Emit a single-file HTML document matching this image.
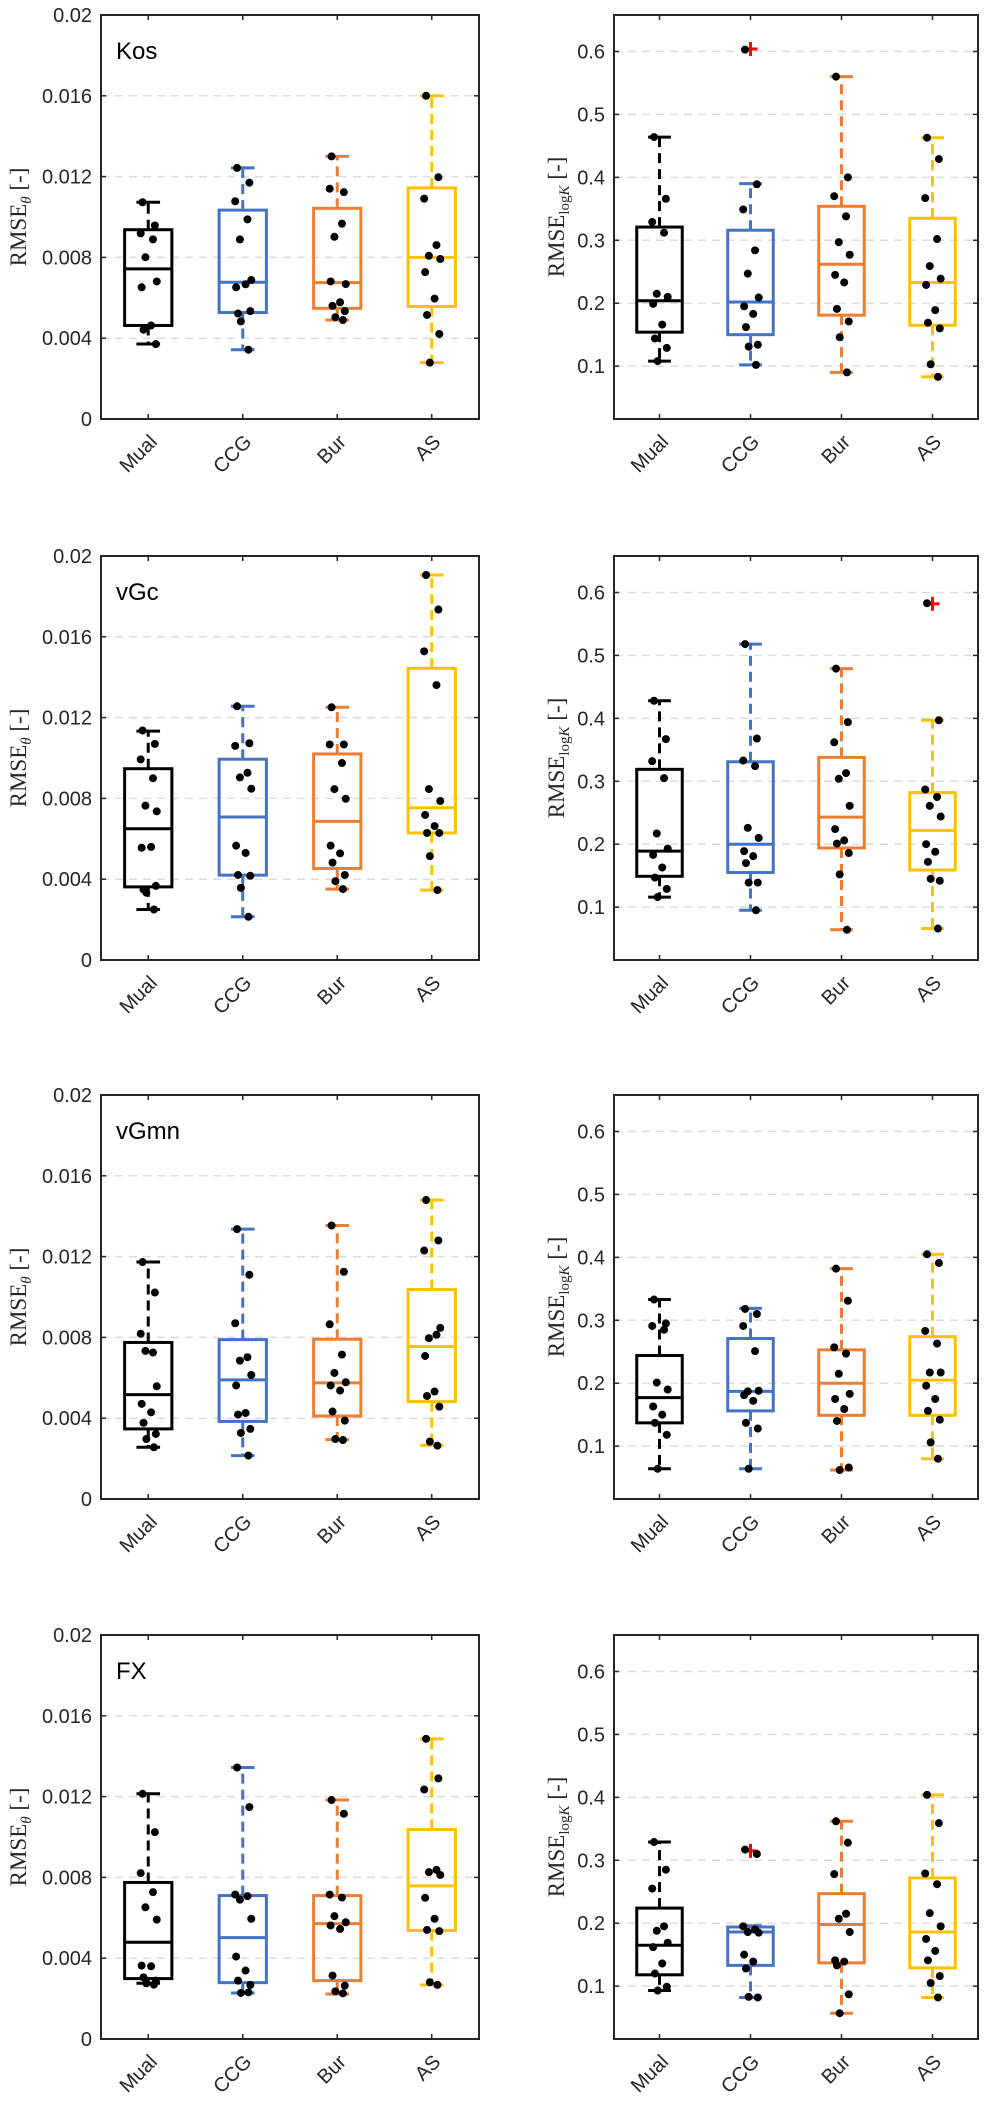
<!DOCTYPE html>
<html><head><meta charset="utf-8">
<style>
html,body{margin:0;padding:0;background:#fff;}
svg{display:block;}
</style></head>
<body>
<svg id="fig" width="989" height="2102" viewBox="0 0 989 2102" xmlns="http://www.w3.org/2000/svg"></svg>
<script>
const categories = ["Mual","CCG","Bur","AS"];
const modelNames = ["Kos","vGc","vGmn","FX"];
const thetaTicks = [0,0.004,0.008,0.012,0.016,0.02];
const thetaTickLabels = ["0","0.004","0.008","0.012","0.016","0.02"];
const logKTicks = [0.1,0.2,0.3,0.4,0.5,0.6];
const logKTickLabels = ["0.1","0.2","0.3","0.4","0.5","0.6"];

// box stats per group: [whiskerLow, q1, median, q3, whiskerHigh]
const kosThetaStats = [[0.00371,0.00463,0.00743,0.00937,0.01073],[0.00343,0.00527,0.00677,0.01034,0.01243],[0.0049,0.00548,0.00675,0.01043,0.0130],[0.00279,0.00557,0.0080,0.01144,0.016]];
const kosThetaPts = [[0.01073,0.00958,0.00919,0.00889,0.00801,0.00681,0.00652,0.00463,0.00442,0.00371],
 [0.01243,0.0117,0.01078,0.00988,0.00889,0.00688,0.00652,0.00667,0.00522,0.00534,0.00483,0.00343],
 [0.0130,0.01123,0.0114,0.00967,0.00902,0.00668,0.00681,0.00578,0.0056,0.00534,0.00504,0.0049],
 [0.016,0.01197,0.01091,0.00861,0.00808,0.00792,0.00727,0.00596,0.00515,0.00421,0.00279]];
const kosThetaOut = [[],[],[],[]];

const kosLogKStats = [[0.108,0.154,0.204,0.321,0.464],[0.102,0.150,0.202,0.316,0.390],[0.090,0.181,0.262,0.354,0.560],[0.083,0.165,0.233,0.335,0.463]];
const kosLogKPts = [[0.464,0.366,0.329,0.312,0.215,0.210,0.199,0.166,0.144,0.129,0.108],
 [0.603,0.389,0.349,0.284,0.247,0.209,0.195,0.183,0.162,0.134,0.131,0.102],
 [0.560,0.400,0.370,0.338,0.297,0.277,0.245,0.233,0.191,0.171,0.146,0.090],
 [0.463,0.429,0.367,0.302,0.259,0.239,0.229,0.189,0.169,0.160,0.103,0.083]];
const kosLogKOut = [[],[0.604],[],[]];

const vgcThetaStats = [[0.0025,0.00362,0.0065,0.00947,0.01133],[0.00214,0.0042,0.00708,0.00994,0.01256],[0.00351,0.00453,0.00686,0.0102,0.01251],[0.00346,0.00629,0.00754,0.01444,0.01906]];
const vgcThetaPts = [[0.01136,0.0107,0.00993,0.009,0.00764,0.00736,0.00556,0.0056,0.00349,0.00367,0.00333,0.0025],
 [0.01256,0.01073,0.0106,0.00927,0.00904,0.00848,0.00566,0.0053,0.00421,0.00417,0.00357,0.00214],
 [0.01251,0.01067,0.01067,0.00975,0.00846,0.00798,0.00566,0.00528,0.00482,0.00421,0.0039,0.00351],
 [0.01906,0.01735,0.01528,0.01361,0.00846,0.00787,0.00718,0.00663,0.00629,0.00629,0.00514,0.00346]];
const vgcThetaOut = [[],[],[],[]];

const vgcLogKStats = [[0.116,0.149,0.189,0.319,0.428],[0.095,0.155,0.200,0.331,0.518],[0.064,0.194,0.243,0.338,0.479],[0.066,0.159,0.222,0.282,0.397]];
const vgcLogKPts = [[0.428,0.367,0.332,0.305,0.217,0.193,0.183,0.163,0.147,0.129,0.116],
 [0.518,0.368,0.333,0.324,0.226,0.210,0.189,0.181,0.170,0.139,0.139,0.095],
 [0.479,0.394,0.362,0.313,0.304,0.261,0.224,0.206,0.201,0.186,0.152,0.064],
 [0.583,0.397,0.287,0.275,0.261,0.244,0.200,0.188,0.172,0.142,0.145,0.066]];
const vgcLogKOut = [[],[],[],[0.582]];

const vgmnThetaStats = [[0.00256,0.00347,0.00517,0.00775,0.01173],[0.00215,0.00384,0.0059,0.00789,0.01336],[0.00294,0.00411,0.00575,0.00791,0.01354],[0.00266,0.00482,0.00755,0.01037,0.0148]];
const vgmnThetaPts = [[0.01173,0.01022,0.00818,0.00725,0.00733,0.00558,0.00471,0.00429,0.00377,0.00322,0.00297,0.00256],
 [0.01336,0.0111,0.0087,0.00702,0.00685,0.00614,0.00562,0.00426,0.00418,0.00347,0.00327,0.00215],
 [0.01354,0.01125,0.00865,0.00715,0.00624,0.00578,0.00562,0.00537,0.00433,0.00388,0.00297,0.00292],
 [0.0148,0.0128,0.0123,0.00813,0.00796,0.00847,0.00708,0.00532,0.0051,0.00457,0.00284,0.00264]];
const vgmnThetaOut = [[],[],[],[]];

const vgmnLogKStats = [[0.064,0.137,0.177,0.244,0.333],[0.064,0.156,0.187,0.271,0.319],[0.062,0.149,0.200,0.253,0.382],[0.080,0.149,0.205,0.274,0.405]];
const vgmnLogKPts = [[0.333,0.295,0.291,0.285,0.201,0.190,0.163,0.150,0.137,0.118,0.064],
 [0.318,0.310,0.291,0.251,0.187,0.188,0.181,0.172,0.137,0.128,0.064],
 [0.382,0.331,0.257,0.247,0.215,0.183,0.175,0.159,0.140,0.066,0.062],
 [0.405,0.391,0.283,0.263,0.217,0.217,0.196,0.175,0.156,0.142,0.106,0.080]];
const vgmnLogKOut = [[],[],[],[]];

const fxThetaStats = [[0.00276,0.00299,0.00479,0.00775,0.01214],[0.00228,0.00279,0.00502,0.0071,0.01344],[0.00223,0.00289,0.00571,0.0071,0.01183],[0.00268,0.00537,0.00758,0.01037,0.01486]];
const fxThetaPts = [[0.01214,0.01024,0.00821,0.00727,0.00652,0.00591,0.00363,0.0036,0.00305,0.00289,0.00276,0.00269],
 [0.01344,0.01148,0.00715,0.00707,0.0069,0.00595,0.00408,0.00339,0.00289,0.00268,0.00228,0.00231],
 [0.01183,0.01115,0.00715,0.007,0.00608,0.00578,0.00562,0.00545,0.00314,0.00264,0.00236,0.00226],
 [0.01486,0.0129,0.01235,0.00837,0.00826,0.00812,0.00699,0.00595,0.0054,0.00534,0.00281,0.00268]];
const fxThetaOut = [[],[],[],[]];

const fxLogKStats = [[0.093,0.118,0.165,0.224,0.329],[0.082,0.133,0.186,0.194,0.196],[0.057,0.137,0.198,0.247,0.362],[0.082,0.129,0.186,0.272,0.404]];
const fxLogKPts = [[0.329,0.285,0.255,0.195,0.188,0.169,0.162,0.136,0.120,0.099,0.093],
 [0.317,0.310,0.195,0.190,0.186,0.185,0.150,0.139,0.128,0.082,0.083],
 [0.362,0.328,0.278,0.215,0.207,0.186,0.141,0.139,0.133,0.087,0.057],
 [0.404,0.359,0.279,0.262,0.216,0.195,0.175,0.156,0.141,0.116,0.105,0.082]];
const fxLogKOut = [[],[0.315],[],[]];

const thetaStats = [kosThetaStats, vgcThetaStats, vgmnThetaStats, fxThetaStats];
const thetaPts = [kosThetaPts, vgcThetaPts, vgmnThetaPts, fxThetaPts];
const thetaOut = [kosThetaOut, vgcThetaOut, vgmnThetaOut, fxThetaOut];
const logKStats = [kosLogKStats, vgcLogKStats, vgmnLogKStats, fxLogKStats];
const logKPts = [kosLogKPts, vgcLogKPts, vgmnLogKPts, fxLogKPts];
const logKOut = [kosLogKOut, vgcLogKOut, vgmnLogKOut, fxLogKOut];

const colors = ["#000000","#4472C4","#ED7D31","#FFC000"];
const jitter = [-0.06,0.07,-0.08,0.05,-0.03,0.09,-0.07,0.03,-0.05,0.08,-0.02,0.06];
const NS = "http://www.w3.org/2000/svg";
const svg = document.getElementById('fig');
function mk(tag, attrs, parent){ const e=document.createElementNS(NS,tag); for(const k in attrs) e.setAttribute(k,attrs[k]); (parent||svg).appendChild(e); return e; }

const rowTops = [15,556,1095,1635];
const H = 404;

function drawPanel(r, side){
  const isTheta = side===0;
  const L = isTheta?101:614, R = isTheta?479:978;
  const T = rowTops[r], B = T+H;
  const ymin = isTheta?0:0.016, ymax = isTheta?0.02:0.658;
  const xs = i => L + (i+0.5)*(R-L)/4;
  const ys = v => B - (v-ymin)/(ymax-ymin)*(B-T);
  const unit = (R-L)/4;
  const g = mk('g',{});
  
  
  const ticks = isTheta?thetaTicks:logKTicks, labels = isTheta?thetaTickLabels:logKTickLabels;
  ticks.forEach((t,i)=>{
    const y=ys(t);
    if(y>T+2 && y<B-2){
      const gl = mk('line',{x1:L,x2:R,y1:y,y2:y,stroke:'#dcdcdc','stroke-width':1.5,'stroke-dasharray':'8,6'},g);
      
      
    }
    mk('line',{x1:L,x2:L+5,y1:y,y2:y,stroke:'#262626','stroke-width':1.5},g);
    mk('line',{x1:R,x2:R-5,y1:y,y2:y,stroke:'#262626','stroke-width':1.5},g);
    const tl = mk('text',{x:L-9,y:y+7,'text-anchor':'end','font-family':'Liberation Sans, sans-serif','font-size':20,fill:'#262626'},g);
    tl.textContent = labels[i];
    
    
  });
  categories.forEach((c,i)=>{
    const x=xs(i);
    mk('line',{x1:x,x2:x,y1:B,y2:B-5,stroke:'#262626','stroke-width':1.5},g);
    mk('line',{x1:x,x2:x,y1:T,y2:T+5,stroke:'#262626','stroke-width':1.5},g);
    const ax=x+10, ay=B+24;
    const ct = mk('text',{x:ax,y:ay,'text-anchor':'end','font-family':'Liberation Sans, sans-serif','font-size':20,fill:'#262626',transform:`rotate(-45 ${ax} ${ay})`},g);
    ct.textContent = c;
    
    
  });
  const stats = isTheta?thetaStats[r]:logKStats[r];
  const pts = isTheta?thetaPts[r]:logKPts[r];
  const outs = isTheta?thetaOut[r]:logKOut[r];
  stats.forEach((s,i)=>{
    const x=xs(i), col=colors[i], bw=unit*0.25, cw=unit*0.125;
    const bg = mk('g',{},g);
    
    
    mk('line',{x1:x,x2:x,y1:ys(s[3]),y2:ys(s[4]),stroke:col,'stroke-width':3,'stroke-dasharray':'10,6'},bg);
    mk('line',{x1:x,x2:x,y1:ys(s[1]),y2:ys(s[0]),stroke:col,'stroke-width':3,'stroke-dasharray':'10,6'},bg);
    mk('line',{x1:x-cw,x2:x+cw,y1:ys(s[4]),y2:ys(s[4]),stroke:col,'stroke-width':3},bg);
    mk('line',{x1:x-cw,x2:x+cw,y1:ys(s[0]),y2:ys(s[0]),stroke:col,'stroke-width':3},bg);
    mk('rect',{x:x-bw,y:ys(s[3]),width:2*bw,height:ys(s[1])-ys(s[3]),fill:'none',stroke:col,'stroke-width':3},bg);
    mk('line',{x1:x-bw,x2:x+bw,y1:ys(s[2]),y2:ys(s[2]),stroke:col,'stroke-width':3},bg);
    outs[i].forEach(o=>{
      const oy=ys(o);
      const og = mk('g',{},bg);
      
      
      mk('line',{x1:x-7,x2:x+7,y1:oy,y2:oy,stroke:'#ff0000','stroke-width':3},og);
      mk('line',{x1:x,x2:x,y1:oy-7,y2:oy+7,stroke:'#ff0000','stroke-width':3},og);
    });
    pts[i].forEach((p,k)=>{
      const d = mk('circle',{cx:x+jitter[k%jitter.length]*unit,cy:ys(p),r:4,fill:'#000'},bg);
      
      
    });
  });
  const frame = mk('rect',{x:L,y:T,width:R-L,height:H,fill:'none',stroke:'#262626','stroke-width':2},g);
  
  
  const cy=(T+B)/2;
  if(isTheta){
    const yl = mk('text',{x:26,y:cy,'text-anchor':'middle','font-family':'Liberation Serif, serif','font-size':23,fill:'#262626',transform:`rotate(-90 26 ${cy})`},g);
    yl.innerHTML = 'RMSE<tspan font-size="15" font-style="italic" dy="5">θ</tspan><tspan dy="-5"> [-]</tspan>';
    
    
    const tt = mk('text',{x:L+15,y:T+44,'font-family':'Liberation Sans, sans-serif','font-size':24,fill:'#000'},g);
    tt.textContent = modelNames[r];
    
    
  } else {
    const yl = mk('text',{x:564,y:cy,'text-anchor':'middle','font-family':'Liberation Serif, serif','font-size':23,fill:'#262626',transform:`rotate(-90 564 ${cy})`},g);
    yl.innerHTML = 'RMSE<tspan font-size="15" dy="5">log</tspan><tspan font-size="15" font-style="italic">K</tspan><tspan dy="-5"> [-]</tspan>';
    
    
  }
}
for(let r=0;r<4;r++){ drawPanel(r,0); drawPanel(r,1); }
</script>
</body></html>
